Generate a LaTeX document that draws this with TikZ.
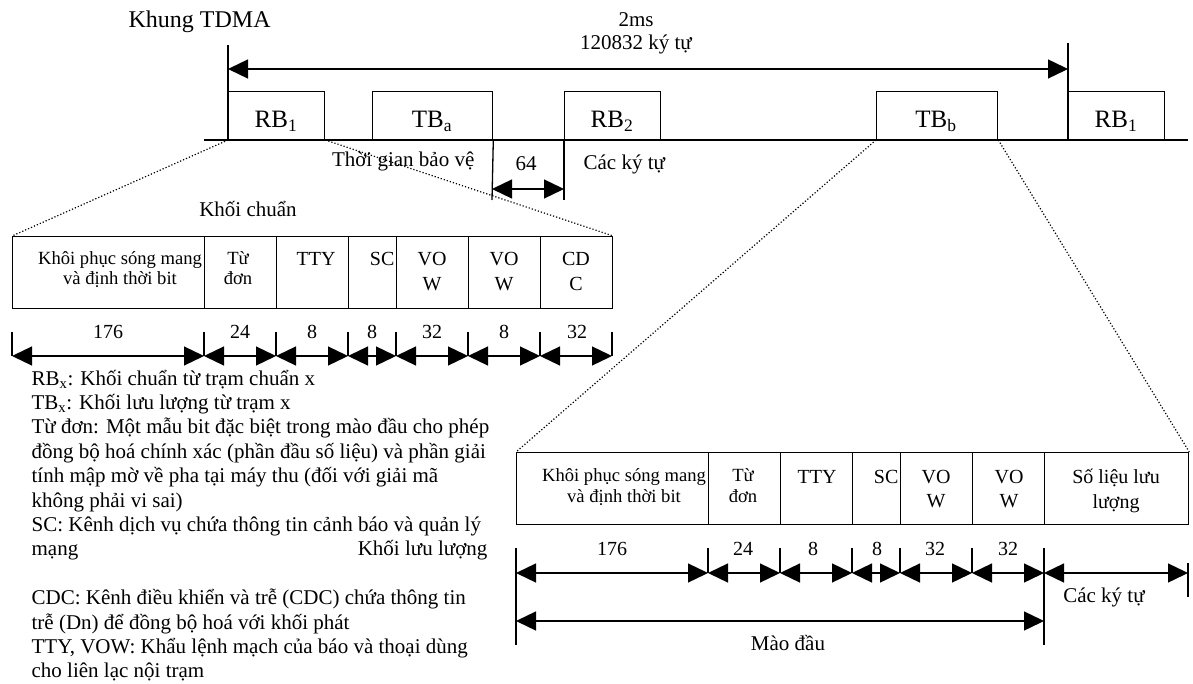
\documentclass[tikz,border=0pt]{standalone}
\usepackage{fontspec}
\setmainfont{Liberation Serif}
\usetikzlibrary{arrows.meta}
\newcommand\fszA{\fontsize{21}{24}\selectfont}
\newcommand\fszB{\fontsize{25}{28}\selectfont}
\newcommand\fszC{\fontsize{18.6}{20}\selectfont}
\newcommand\fszD{\fontsize{20}{22}\selectfont}
\begin{document}
\begin{tikzpicture}[x=1pt,y=-1pt,
  line width=1.3pt,
  slot/.style={draw, inner sep=0pt, minimum height=48pt, anchor=south west},
  cell/.style={draw, inner sep=0pt, minimum height=72pt, anchor=north west},
  dim/.style={{Triangle[length=20pt,width=19pt]}-{Triangle[length=20pt,width=19pt]}},
  dots/.style={line width=1.2pt, dotted},
  txt/.style={inner sep=0pt, font=\fszA},
  lbl/.style={inner sep=0pt, font=\fszB, anchor=base},
  ctxt/.style={inner sep=0pt, font=\fszD, anchor=base},
  stxt/.style={inner sep=0pt, font=\fszC, anchor=base},
  note/.style={inner sep=0pt, font=\fszA, anchor=base west}
]
\useasboundingbox (0,0) rectangle (1193,684);

% ---------- TDMA frame ----------
\node[txt, font=\fontsize{24}{26}\selectfont, anchor=base west] (title) at (128,28) {Khung TDMA};
\node[txt, anchor=base] (t2ms) at (636,27) {2ms};
\node[txt, anchor=base] (tsym) at (636,50) {120832 ký tự};

\coordinate (bl0) at (204,140);
\coordinate (bl1) at (1188,140);
\draw (bl0) -- (bl1);

\node[slot, minimum width=96pt]  (rb1)  at (228,140) {};
\node[slot, minimum width=120pt] (tba)  at (372,140) {};
\node[slot, minimum width=96pt]  (rb2)  at (564,140) {};
\node[slot, minimum width=121pt] (tbb)  at (876,140) {};
\node[slot, minimum width=96pt]  (rb1b) at (1068,140) {};

\node[lbl] (lrb1)  at (276,128) {RB\textsubscript{1}};
\node[lbl] (ltba)  at (432,128) {TB\textsubscript{a}};
\node[lbl] (lrb2)  at (612,128) {RB\textsubscript{2}};
\node[lbl] (ltbb)  at (936,128) {TB\textsubscript{b}};
\node[lbl] (lrb1b) at (1116,128) {RB\textsubscript{1}};

\coordinate (vl) at (228,45);
\coordinate (vr) at (1068,43);
\draw (vl) -- (rb1.south west);
\draw (vr) -- (rb1b.south west);
\coordinate (al) at (228,69);
\coordinate (ar) at (1068,69);
\draw[dim] (al) -- (ar);

% guard time
\coordinate (g1) at (492,200);
\coordinate (g2) at (564,200);
\draw (tba.south east) -- (g1);
\draw (rb2.south west) -- (g2);
\coordinate (ga) at (492,189);
\coordinate (gb) at (564,189);
\draw[dim] (ga) -- (gb);
\node[txt, anchor=base east] (tgb) at (475,167) {Thời gian bảo vệ};
\node[txt, anchor=base] (t64) at (526,171) {64};
\node[txt, anchor=base west] (tck) at (583,170) {Các ký tự};

% ---------- reference burst ----------
\node[txt, anchor=base] (tkc) at (248,217) {Khối chuẩn};
\node[cell, minimum width=192pt] (l1) at (12,236) {};
\node[cell, minimum width=72pt]  (l2) at (204,236) {};
\node[cell, minimum width=72pt]  (l3) at (276,236) {};
\node[cell, minimum width=48pt]  (l4) at (348,236) {};
\node[cell, minimum width=72pt]  (l5) at (396,236) {};
\node[cell, minimum width=72pt]  (l6) at (468,236) {};
\node[cell, minimum width=72pt]  (l7) at (540,236) {};

\node[stxt] at (120,265) {Khôi phục sóng mang};
\node[stxt] at (120,285) {và định thời bit};
\node[stxt] at (238,265) {Từ};
\node[stxt] at (238,285) {đơn};
\node[ctxt] at (316,266) {TTY};
\node[ctxt, anchor=base east] at (395,266) {SC};
\node[ctxt] at (432,266) {VO};
\node[ctxt] at (432,291) {W};
\node[ctxt] at (504,266) {VO};
\node[ctxt] at (504,291) {W};
\node[ctxt] at (576,266) {CD};
\node[ctxt] at (576,291) {C};

\draw[dots] (rb1.south west) -- (l1.north west);
\draw[dots] (rb1.south east) -- (l7.north east);

% dimension ticks (left)
\foreach \x [count=\i] in {12,204,276,348,396,468,540,612}{
  \coordinate (lt\i) at (\x,332);
  \coordinate (lb\i) at (\x,356);
  \draw (lt\i) -- (lb\i);
}
\foreach \i/\j in {1/2,2/3,3/4,4/5,5/6,6/7,7/8}{
  \draw[dim] (lb\i) -- (lb\j);
}
\node[ctxt] at (108,338) {176};
\node[ctxt] at (240,338) {24};
\node[ctxt] at (312,338) {8};
\node[ctxt] at (372,338) {8};
\node[ctxt] at (432,338) {32};
\node[ctxt] at (504,338) {8};
\node[ctxt] at (577,338) {32};

% ---------- traffic burst ----------
\node[cell, minimum width=192pt] (r1) at (516,452) {};
\node[cell, minimum width=72pt]  (r2) at (708,452) {};
\node[cell, minimum width=72pt]  (r3) at (780,452) {};
\node[cell, minimum width=48pt]  (r4) at (852,452) {};
\node[cell, minimum width=72pt]  (r5) at (900,452) {};
\node[cell, minimum width=72pt]  (r6) at (972,452) {};
\node[cell, minimum width=144pt] (r7) at (1044,452) {};

\node[stxt] at (624,481) {Khôi phục sóng mang};
\node[stxt] at (624,502) {và định thời bit};
\node[stxt] at (743,481) {Từ};
\node[stxt] at (743,502) {đơn};
\node[ctxt] at (817,483) {TTY};
\node[ctxt, anchor=base east] at (899,483) {SC};
\node[ctxt] at (936,483) {VO};
\node[ctxt] at (936,507) {W};
\node[ctxt] at (1009,483) {VO};
\node[ctxt] at (1009,507) {W};
\node[ctxt] at (1116,483) {Số liệu lưu};
\node[ctxt] at (1116,508) {lượng};

\draw[dots] (tbb.south west) -- (r1.north west);
\draw[dots] (tbb.south east) -- (r7.north east);

\foreach \x [count=\i] in {516,708,780,852,900,972,1044}{
  \coordinate (rt\i) at (\x,548);
  \coordinate (rb\i) at (\x,573);
}
\coordinate (rt8) at (1188,563);
\coordinate (rb8) at (1188,573);
\coordinate (re8) at (1188,597);
\foreach \i in {2,3,4,5,6}{ \draw (rt\i) -- (rb\i); }
\coordinate (rm1) at (516,621);
\coordinate (rm7) at (1044,621);
\coordinate (rz1) at (516,645);
\coordinate (rz7) at (1044,645);
\draw (rt1) -- (rz1);
\draw (rt7) -- (rz7);
\draw (rt8) -- (re8);
\foreach \i/\j in {1/2,2/3,3/4,4/5,5/6,6/7,7/8}{
  \draw[dim] (rb\i) -- (rb\j);
}
\draw[dim] (rm1) -- (rm7);
\node[ctxt] at (612,555) {176};
\node[ctxt] at (743,555) {24};
\node[ctxt] at (813,555) {8};
\node[ctxt] at (877,555) {8};
\node[ctxt] at (935,555) {32};
\node[ctxt] at (1008,555) {32};
\node[txt, anchor=base] at (1104,602) {Các ký tự};
\node[txt, anchor=base] at (788,650) {Mào đầu};

% ---------- notes ----------
\node[note] (n0) at (31,385) {RB\textsubscript{x}: Khối chuẩn từ trạm chuẩn x};
\node[note] (n1) at (31,409.4) {TB\textsubscript{x}: Khối lưu lượng từ trạm x};
\node[note] (n2) at (31,433.8) {Từ đơn: Một mẫu bit đặc biệt trong mào đầu cho phép};
\node[note] (n3) at (31,458.2) {đồng bộ hoá chính xác (phần đầu số liệu) và phần giải};
\node[note] (n4) at (31,482.6) {tính mập mờ về pha tại máy thu (đối với giải mã};
\node[note] (n5) at (31,507) {không phải vi sai)};
\node[note] (n6) at (31,531.4) {SC: Kênh dịch vụ chứa thông tin cảnh báo và quản lý};
\node[note] (n7) at (31,555.8) {mạng};
\node[txt, anchor=base east] (tkl) at (488,555.8) {Khối lưu lượng};
\node[note] (n9) at (31,604.6) {CDC: Kênh điều khiển và trễ (CDC) chứa thông tin};
\node[note] (n10) at (31,629) {trễ (Dn) để đồng bộ hoá với khối phát};
\node[note] (n11) at (31,653.4) {TTY, VOW: Khẩu lệnh mạch của báo và thoại dùng};
\node[note] (n12) at (31,677.8) {cho liên lạc nội trạm};
\end{tikzpicture}
\end{document}
